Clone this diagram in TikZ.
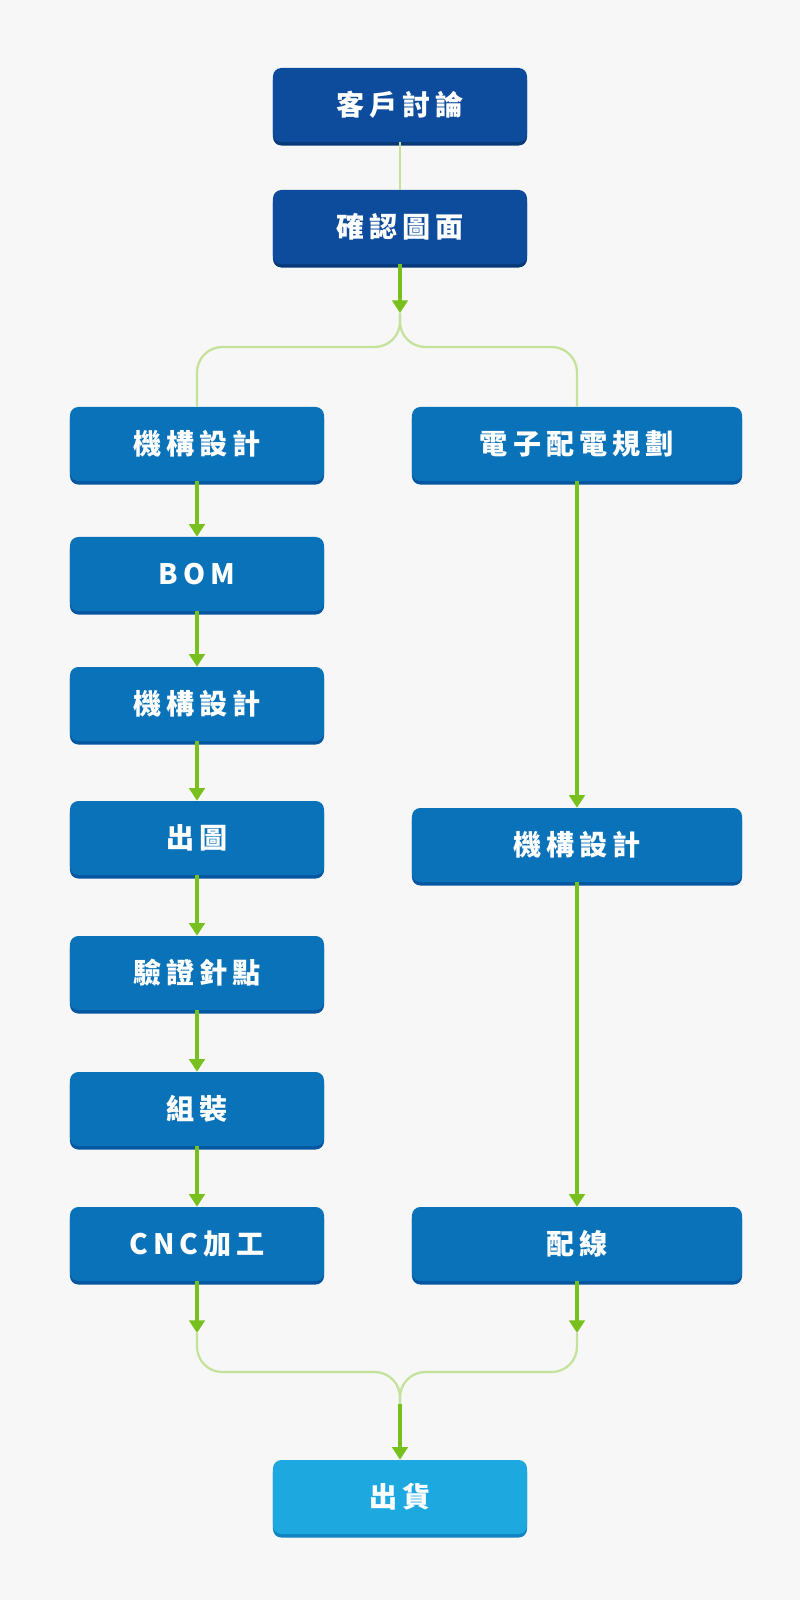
\documentclass[tikz,border=0pt]{standalone}
\usepackage{fontspec}
\newfontfamily\cjk[LetterSpace=18]{Noto Sans CJK TC}
\usetikzlibrary{arrows.meta}
\definecolor{navyblue}{HTML}{0D4C9C}
\definecolor{navyshade}{HTML}{083A7A}
\definecolor{midblue}{HTML}{0A72B8}
\definecolor{midshade}{HTML}{0756A0}
\definecolor{skyblue}{HTML}{1DA9E0}
\definecolor{skyshade}{HTML}{1283C0}
\definecolor{leafgreen}{HTML}{78C01E}
\definecolor{palegreen}{HTML}{C4E29A}

\begin{document}
\begin{tikzpicture}[x=0.025cm,y=-0.025cm]
	\tikzstyle{box} = [rectangle,rounded corners=6pt,text=white,font=\cjk\bfseries\fontsize{20}{24}\selectfont,minimum height=1.85cm,inner sep=0pt]
	\tikzstyle{topbox} = [box,fill=navyblue,minimum width=6.35cm,preaction={fill=navyshade,transform canvas={yshift=-2.5pt}}]
	\tikzstyle{leftbox} = [box,fill=midblue,minimum width=6.35cm,preaction={fill=midshade,transform canvas={yshift=-2.5pt}}]
	\tikzstyle{rightbox} = [box,fill=midblue,minimum width=8.25cm,preaction={fill=midshade,transform canvas={yshift=-2.5pt}}]
	\tikzstyle{endbox} = [box,fill=skyblue,minimum width=6.35cm,preaction={fill=skyshade,transform canvas={yshift=-2.5pt}}]
	\tikzstyle{flow} = [-{Triangle[length=9pt,width=11pt]},draw=leafgreen,line width=3pt]
	\tikzstyle{branch} = [-,draw=palegreen,line width=1.6pt,rounded corners=18pt]
	\fill[gray!6] (0,0) rectangle (800,1600);
	\useasboundingbox (0,0) rectangle (800,1600);

	\node[topbox] (talk) at (400,105) {客戶討論};
	\node[topbox] (confirm) at (400,227) {確認圖面};

	\node[leftbox] (l1) at (197,444) {機構設計};
	\node[leftbox] (l2) at (197,574) {BOM};
	\node[leftbox] (l3) at (197,704) {機構設計};
	\node[leftbox] (l4) at (197,838) {出圖};
	\node[leftbox] (l5) at (197,973) {驗證針點};
	\node[leftbox] (l6) at (197,1109) {組裝};
	\node[leftbox] (l7) at (197,1244) {CNC加工};

	\node[rightbox] (r1) at (577,444) {電子配電規劃};
	\node[rightbox] (r2) at (577,845) {機構設計};
	\node[rightbox] (r3) at (577,1244) {配線};

	\node[endbox] (ship) at (400,1497) {出貨};

	\coordinate (split) at (400,313);
	\coordinate (joinl) at (197,1333);
	\coordinate (joinr) at (577,1333);
	\coordinate (merge) at (400,1404);

	\draw[branch] (talk)--(confirm);
	\draw[flow] (confirm)--(split);
	\draw[branch] (split)--(400,347)--(197,347)--(l1.north);
	\draw[branch] (split)--(400,347)--(577,347)--(r1.north);

	\foreach \a/\b in {l1/l2,l2/l3,l3/l4,l4/l5,l5/l6,l6/l7,r1/r2,r2/r3}
		\draw[flow] (\a)--(\b);

	\draw[flow] (l7)--(joinl);
	\draw[flow] (r3)--(joinr);
	\draw[branch] (joinl)--(197,1372)--(400,1372)--(merge);
	\draw[branch] (joinr)--(577,1372)--(400,1372)--(merge);
	\draw[flow] (merge)--(ship);
\end{tikzpicture}
\end{document}
